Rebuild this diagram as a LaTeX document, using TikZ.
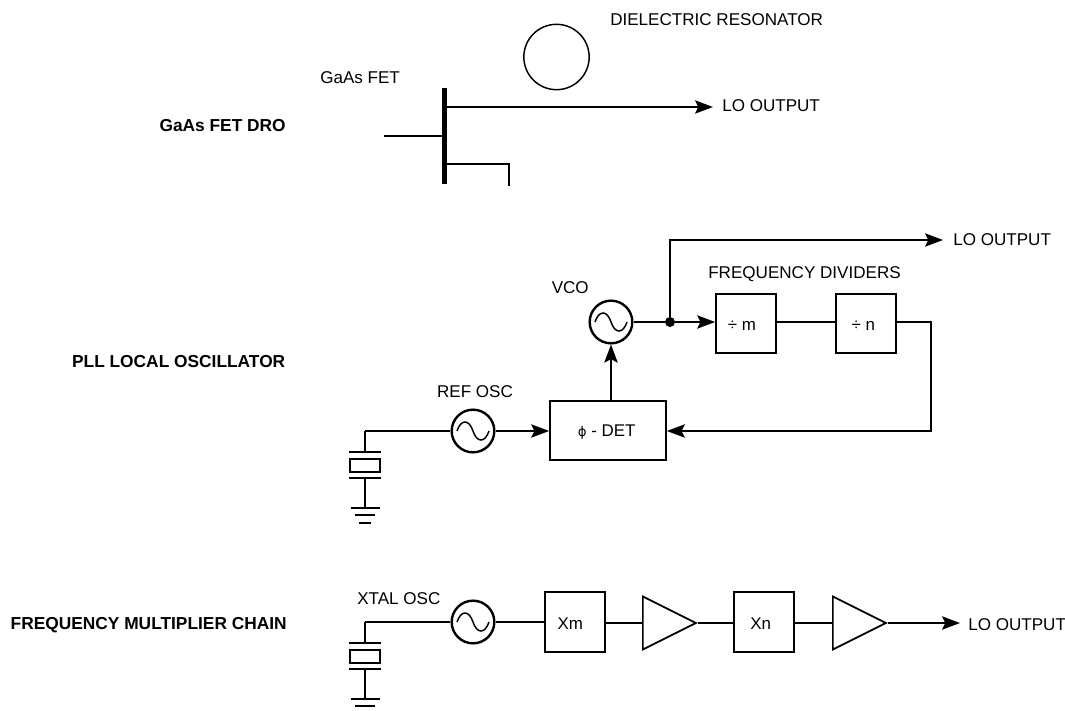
\documentclass[tikz,border=0pt]{standalone}
\usepackage{fontspec}
\setmainfont{Liberation Sans}
\newfontfamily\phifont{DejaVu Sans}
\usetikzlibrary{arrows.meta,shapes.geometric}
\tikzset{
  wire/.style={line width=1.3pt},
  feed/.style={wire,-{Stealth[length=13.5pt,width=10pt,inset=2.5pt]}},
  osc/.style={draw,circle,line width=1.8pt,minimum size=32pt,inner sep=0pt},
  blockbox/.style={draw,line width=1.3pt,minimum width=45pt,minimum height=44.5pt,inner sep=0pt,text height=11pt,text depth=0pt,font=\fontsize{12.7}{14}\selectfont},
  amp/.style={draw,isosceles triangle,isosceles triangle apex angle=53.13,line width=1.3pt,inner sep=0pt,minimum height=39.75pt,anchor=lower side},
  lab/.style={inner sep=0pt,text height=9.3pt,text depth=0pt,font=\fontsize{12.8}{14}\selectfont},
  sidelab/.style={lab,anchor=east,font=\fontsize{13}{14}\selectfont\bfseries}
}
\newcommand{\sinewave}[1]{
  \draw[line width=1.1pt] ([xshift=-12pt]#1.center) .. controls +(3pt,9pt) and +(-3pt,9pt) .. (#1.center)
    .. controls +(3pt,-9pt) and +(-3pt,-9pt) .. ([xshift=12pt]#1.center);
}
% crystal and ground, hung under the point #1
\newcommand{\xtal}[1]{
  \begin{scope}[shift={(#1)}]
    \draw[wire] (0,0) -- (0,21);
    \draw[wire] (-16,21) -- (16,21);
    \draw[wire] (-15,28) rectangle (15,41);
    \draw[wire] (-16,47) -- (16,47);
    \draw[wire] (0,47) -- (0,77);
    \draw[wire] (-14.5,77) -- (14.5,77);
    \draw[wire] (-10,84) -- (10,84);
    \draw[wire] (-6,92) -- (6,92);
  \end{scope}
}
\begin{document}
\begin{tikzpicture}[x=0.75pt,y=-0.75pt]
  \useasboundingbox (0,0) rectangle (1065,711);
  % top
  \node[sidelab] (T1) at (286,125) {GaAs FET DRO};
  \node[lab,anchor=west] (FETL) at (320,77) {GaAs FET};
  \node[lab,anchor=west] (DRL) at (610,19) {DIELECTRIC RESONATOR};
  \node[draw,circle,line width=1.1pt,minimum size=49pt,inner sep=0pt] (DR) at (556.5,57) {};
  \coordinate (Gt) at (444,88);
  \coordinate (Gb) at (444,184);
  \coordinate (G) at (384,136);
  \coordinate (Dr) at (444,107);
  \coordinate (So) at (444,164);
  \coordinate (So2) at (509,164);
  \coordinate (So3) at (509,186);
  \node[lab,anchor=west] (LO1) at (722,105) {LO OUTPUT};
  \coordinate (LO1t) at (713,107);
  \draw[line width=3.75pt] (Gt) -- (Gb);
  \draw[wire] (G) -- (G -| Gt);
  \draw[feed] (Dr) -- (LO1t);
  \draw[wire] (So) -- (So2) -- (So3);
  % middle
  \node[sidelab] (T2) at (285.5,361) {PLL LOCAL OSCILLATOR};
  \node[osc] (VCO) at (611,322) {};
  \node[lab,anchor=east] (VCOL) at (589,287) {VCO};
  \node[osc] (REF) at (473,431) {};
  \node[lab] (REFL) at (475,391) {REF OSC};
  \node[blockbox,minimum width=87pt,text height=9pt] (DET) at (608,430.5) {{\phifont\fontsize{10}{12}\selectfont ϕ} - DET\hspace*{2pt}};
  \node[blockbox] (DM) at (746,323.5) {÷ m\hspace*{6pt}};
  \node[blockbox] (DN) at (866,323.5) {÷ n\hspace*{4pt}};
  \node[lab,anchor=west] (FDL) at (708,272) {FREQUENCY DIVIDERS};
  \node[lab,anchor=west] (LO2) at (953,239) {LO OUTPUT};
  \node[circle,fill,inner sep=0pt,minimum size=7.5pt] (J) at (670,322) {};
  \coordinate (Up) at (670,240);
  \coordinate (LO2t) at (943,240);
  \coordinate (Rt) at (931,322);
  \coordinate (Rb) at (931,431);
  \coordinate (XT) at (365,431);
  \draw[wire] (VCO) -- (J);
  \draw[feed] (J) -- (DM.west |- J);
  \draw[feed] (J) -- (Up) -- (LO2t);
  \draw[wire] (DM.east |- J) -- (DN.west |- J);
  \draw[feed] (DN.east |- J) -- (Rt) -- (Rb) -- (DET.east |- Rb);
  \draw[feed] (VCO |- DET.north) -- (VCO.south);
  \draw[feed] (REF) -- (DET.west |- REF);
  \draw[wire] (REF) -- (XT);
  \xtal{XT}
  \sinewave{VCO}
  \sinewave{REF}
  % bottom
  \node[sidelab] (T3) at (287,623) {FREQUENCY MULTIPLIER CHAIN};
  \node[osc] (XO) at (473,622) {};
  \node[lab,anchor=west] (XOL) at (357,598) {XTAL OSC};
  \node[blockbox] (XM) at (575,622) {Xm\hspace*{7pt}};
  \node[amp] (A1) at (642,623) {};
  \node[blockbox] (XN) at (764,622) {Xn\hspace*{5pt}};
  \node[amp] (A2) at (832,623) {};
  \node[lab,anchor=west] (LO3) at (968,624) {LO OUTPUT};
  \coordinate (XB) at (365,622);
  \coordinate (LO3t) at (960,623);
  \draw[wire] (XO) -- (XM.west |- XO);
  \draw[wire] (XM.east |- A1.lower side) -- (A1.lower side);
  \draw[wire] (A1.apex) -- (XN.west |- A1.apex);
  \draw[wire] (XN.east |- A2.lower side) -- (A2.lower side);
  \draw[feed] (A2.apex) -- (LO3t);
  \draw[wire] (XO) -- (XB);
  \xtal{XB}
  \sinewave{XO}
\end{tikzpicture}
\end{document}
